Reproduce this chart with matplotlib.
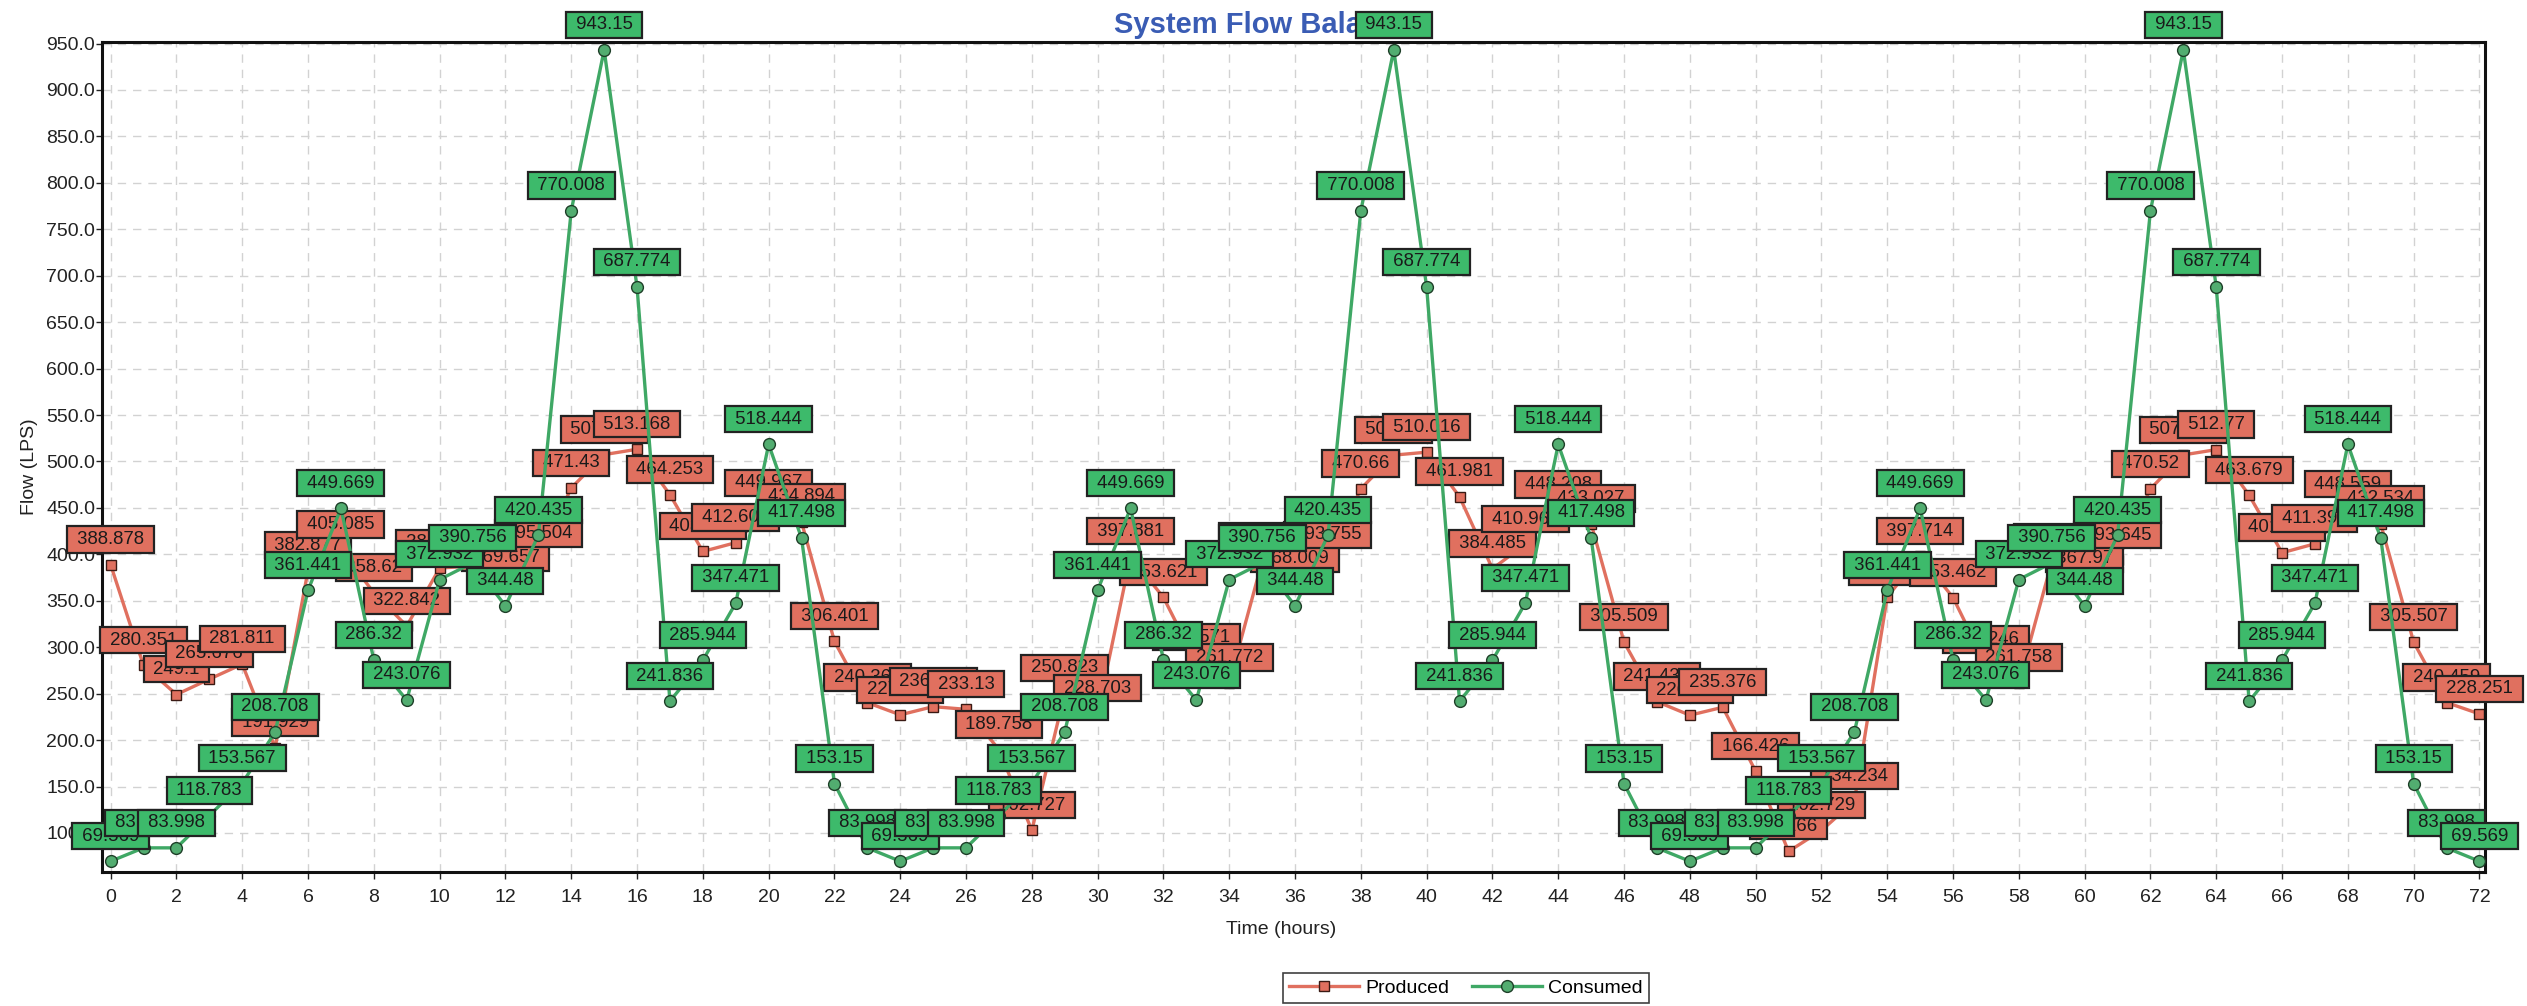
import matplotlib
matplotlib.use('Agg')
import matplotlib.pyplot as plt
from matplotlib.ticker import MultipleLocator, FormatStrFormatter

plt.rcParams['font.family'] = ['Liberation Sans', 'DejaVu Sans']

# hourly values, 0..72 h
hours = list(range(0, 73))

produced = [388.878, 280.351, 249.1, 265.676, 281.811, 191.929, 382.877, 405.085,
            358.62, 322.842, 385.214, 387.5, 369.657, 395.504, 471.43, 507.391,
            513.168, 464.253, 403.127, 412.608, 449.967, 434.894, 306.401, 240.362,
            227.214, 236.052, 233.13, 189.758, 102.727, 250.823, 228.703, 397.881,
            353.621, 283.571, 261.772, 392.318, 368.009, 393.755, 470.66, 506.84,
            510.016, 461.981, 384.485, 410.962, 448.208, 433.027, 305.509, 241.437,
            226.815, 235.376, 166.426, 80.166, 102.729, 134.234, 354.28, 397.714,
            353.462, 281.246, 261.758, 391.87, 367.97, 393.645, 470.52, 507.093,
            512.77, 463.679, 401.735, 411.392, 448.559, 432.534, 305.507, 240.459,
            228.251]

consumed = [69.569, 83.998, 83.998, 118.783, 153.567, 208.708, 361.441, 449.669,
            286.32, 243.076, 372.932, 390.756, 344.48, 420.435, 770.008, 943.15,
            687.774, 241.836, 285.944, 347.471, 518.444, 417.498, 153.15, 83.998,
            69.569, 83.998, 83.998, 118.783, 153.567, 208.708, 361.441, 449.669,
            286.32, 243.076, 372.932, 390.756, 344.48, 420.435, 770.008, 943.15,
            687.774, 241.836, 285.944, 347.471, 518.444, 417.498, 153.15, 83.998,
            69.569, 83.998, 83.998, 118.783, 153.567, 208.708, 361.441, 449.669,
            286.32, 243.076, 372.932, 390.756, 344.48, 420.435, 770.008, 943.15,
            687.774, 241.836, 285.944, 347.471, 518.444, 417.498, 153.15, 83.998,
            69.569]

red = '#e0705f'
green = '#3dba6b'
green_line = '#3fa865'

fig = plt.figure(figsize=(25.27, 10.06), dpi=100)
ax = fig.add_axes([0.0404, 0.1332, 0.9430, 0.8250])

ax.plot(hours, produced, color=red, lw=2.4, marker='s', ms=6.5, mfc=red,
        mec='#3a1a14', mew=1.0, zorder=2, label='Produced')
ax.plot(hours, consumed, color=green_line, lw=2.4, marker='o', ms=8.5, mfc='#52ad70',
        mec='#1e3f28', mew=1.0, zorder=4, label='Consumed')

# value labels
for t, v in zip(hours, produced):
    ax.annotate(f' {v:g} ', (t, v), xytext=(0, 12), textcoords='offset points',
                ha='center', va='bottom', fontsize=13.4, color='#1a1a1a',
                bbox=dict(boxstyle='square,pad=0.25', fc=red, ec='#222222', lw=1.6),
                zorder=3, annotation_clip=False)
for t, v in zip(hours, consumed):
    ax.annotate(f' {v:g} ', (t, v), xytext=(0, 12), textcoords='offset points',
                ha='center', va='bottom', fontsize=13.4, color='#1a1a1a',
                bbox=dict(boxstyle='square,pad=0.25', fc=green, ec='#222222', lw=1.6),
                zorder=5, annotation_clip=False)

ax.set_xlim(-0.26, 72.17)
ax.set_ylim(58, 951.6)
ax.xaxis.set_major_locator(MultipleLocator(2))
ax.yaxis.set_major_formatter(FormatStrFormatter('%.1f'))
ax.set_yticks([y for y in range(100, 951, 50)])
ax.tick_params(axis='both', labelsize=14, colors='#222222', width=1)
ax.tick_params(axis='y', length=4, pad=1)
ax.tick_params(axis='x', length=5, pad=7)

ax.set_axisbelow(True)
ax.grid(True, color='#d2d2d2', ls=(0, (6, 5)), lw=1.0)
for s in ax.spines.values():
    s.set_linewidth(2.2)
    s.set_color('#111111')

ax.text(0.5, 1 - 33 / 1006, 'System Flow Balance', transform=fig.transFigure,
        ha='center', va='baseline', fontsize=21, fontweight='bold', color='#3a5cb4',
        zorder=1, clip_on=False)

fig.text(29 / 2527, 1 - 467 / 1006, 'Flow (LPS)', rotation=90, ha='center', va='center',
         fontsize=14, color='#222222')
fig.text(1281 / 2527, 1 - 930 / 1006, 'Time (hours)', ha='center', va='center',
         fontsize=14, color='#222222')

leg = fig.legend(loc='center', bbox_to_anchor=(1466 / 2527, 1 - 988 / 1006), ncol=2,
                 fontsize=14, frameon=True, fancybox=False, handlelength=3.6,
                 handletextpad=0.3, columnspacing=1.2, borderpad=0.3)
leg.get_frame().set_edgecolor('#111111')
leg.get_frame().set_linewidth(1.2)

fig.savefig('out.png', dpi=100)
